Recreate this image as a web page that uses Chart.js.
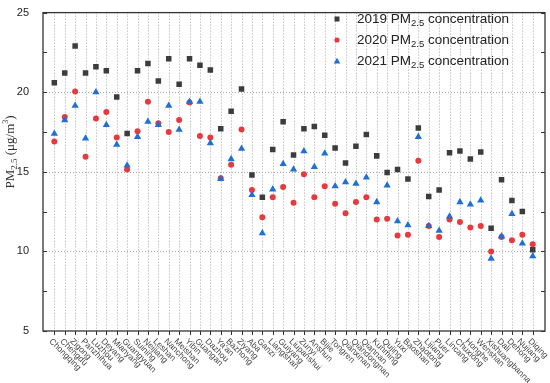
<!DOCTYPE html>
<html>
<head>
<meta charset="utf-8">
<script src="https://cdn.jsdelivr.net/npm/chart.js@4"></script>
<style>
  body { margin: 0; background: #fff; }
  #wrap { width: 550px; height: 383px; }
</style>
</head>
<body>
<div id="wrap"><canvas id="pmChart"></canvas></div>
<script>
// City names along the x axis
const cities = ['Chongqing', 'Chengdu', 'Zigong', 'Panzhihua', 'Luzhou', 'Deyang', 'Mianyang', 'Guangyuan',
    'Suining', 'Neijiang', 'Leshan', 'Nanchong', 'Meishan', 'Yibin', 'Guangan', 'Dazhou', "Ya'an", 'Bazhong',
    'Ziyang', 'Aba', 'Ganzi', 'Liangshan', 'Guiyang', 'Liupanshui', 'Zunyi', 'Anshun', 'Bijie', 'Tongren',
    'Qianxinan', 'Qiandongnan', 'Qiannan', 'Kunming', 'Qujing', 'Yuxi', 'Baoshan', 'Zhaotong', 'Lijiang',
    'Puer', 'Lincang', 'Chuxiong', 'Honghe', 'Wenshan', 'Xishuangbanna', 'Dali', 'Dehong', 'Nujiang', 'Diqing'];

// PM2.5 values (ug/m3)
const pm2019 = [20.6, 21.2, 22.9, 21.2, 21.6, 21.35, 19.7, 17.4, 21.35, 21.8, 20.7, 22.1, 20.5, 22.1, 21.7,
    21.4, 17.7, 18.8, 20.2, 14.8, 13.4, 16.4, 18.15, 16.05, 17.7, 17.85, 17.3, 16.5, 15.55, 16.6, 17.35, 16.0,
    14.95, 15.15, 14.55, 17.75, 13.45, 13.85, 16.2, 16.3, 15.8, 16.25, 11.45, 14.5, 13.2, 12.5, 10.1];
const pm2020 = [16.9, 18.45, 20.05, 15.95, 18.35, 18.75, 17.15, 15.15, 17.55, 19.4, 18.05, 17.5, 18.25, 19.35,
    17.25, 17.15, 14.6, 15.45, 17.65, 13.85, 12.15, 13.4, 14.05, 13.05, 14.85, 13.4, 14.1, 13.0, 12.4, 13.1,
    13.4, 12.0, 12.05, 11.0, 11.05, 15.7, 11.6, 10.9, 12.0, 11.85, 11.5, 11.6, 10.0, 10.9, 10.7, 11.05, 10.45];
const pm2021 = [17.4, 18.25, 19.15, 17.1, 20.0, 17.95, 16.7, 15.4, 17.2, 18.15, 17.95, 19.15, 17.65, 19.4,
    19.4, 16.8, 14.55, 15.8, 16.45, 13.55, 11.15, 13.9, 15.5, 15.15, 16.3, 15.3, 16.15, 14.1, 14.35, 14.25,
    14.65, 13.1, 14.15, 11.9, 11.65, 17.2, 11.6, 11.3, 12.2, 13.1, 12.95, 13.2, 9.55, 10.95, 12.35, 10.5, 9.7];

const yearLabels = ['2019', '2020', '2021'];
const yTicks = [5, 10, 15, 20, 25];

const toPoints = arr => arr.map((v, i) => ({ x: i, y: v }));

// Dotted grid under the points
const gridPlugin = {
    id: 'dotGrid',
    beforeDatasetsDraw(chart) {
        const ctx = chart.ctx;
        const area = chart.chartArea;
        const xs = chart.scales.x;
        const ys = chart.scales.y;
        ctx.save();
        ctx.strokeStyle = '#a8a8a8';
        ctx.lineWidth = 1;
        ctx.setLineDash([1, 2]);
        cities.forEach((c, i) => {
            const px = Math.round(xs.getPixelForValue(i)) + 0.5;
            ctx.beginPath();
            ctx.moveTo(px, area.top); ctx.lineTo(px, area.bottom);
            ctx.stroke();
        });
        [10, 15, 20].forEach(v => {
            const py = Math.round(ys.getPixelForValue(v)) + 0.5;
            ctx.beginPath();
            ctx.moveTo(area.left, py); ctx.lineTo(area.right, py);
            ctx.stroke();
        });
        ctx.restore();
    }
};

// Frame, inward ticks, rotated city labels, axis title and legend
const decorPlugin = {
    id: 'decor',
    afterDraw(chart) {
        const ctx = chart.ctx;
        const area = chart.chartArea;
        const xs = chart.scales.x;
        const ys = chart.scales.y;
        ctx.save();

        // box
        ctx.strokeStyle = '#333';
        ctx.lineWidth = 1.3;
        ctx.strokeRect(area.left, area.top, area.right - area.left, area.bottom - area.top);

        // y ticks, pointing in, both sides
        ctx.lineWidth = 1;
        for (let v = 5; v <= 25; v += 2.5) {
            const py = Math.round(ys.getPixelForValue(v)) + 0.5;
            ctx.beginPath();
            ctx.moveTo(area.left, py); ctx.lineTo(area.left + 4, py);
            ctx.moveTo(area.right, py); ctx.lineTo(area.right - 4, py);
            ctx.stroke();
        }

        // x ticks, pointing out, and labels
        ctx.fillStyle = '#444';
        ctx.font = '8.5px "Liberation Sans", Arial, sans-serif';
        ctx.textAlign = 'left';
        ctx.textBaseline = 'top';
        cities.forEach((c, i) => {
            const px = Math.round(xs.getPixelForValue(i)) + 0.5;
            ctx.beginPath();
            ctx.moveTo(px, area.bottom); ctx.lineTo(px, area.bottom + 4);
            ctx.stroke();
            ctx.save();
            ctx.translate(px - 1, area.bottom + 6);
            ctx.rotate(Math.PI / 4);
            ctx.fillText(c, 0, 0);
            ctx.restore();
        });

        // y axis title
        ctx.save();
        ctx.translate(14, 152);
        ctx.rotate(-Math.PI / 2);
        ctx.fillStyle = '#333';
        ctx.textBaseline = 'alphabetic';
        const parts = [
            ['PM', '13px "Liberation Serif", serif', 0],
            ['2.5', '9px "Liberation Serif", serif', 3],
            [' (\u03bcg/m', '13px "Liberation Serif", serif', 0],
            ['3', '8px "Liberation Serif", serif', -6],
            [')', '13px "Liberation Serif", serif', 0]
        ];
        let w = 0;
        parts.forEach(p => { ctx.font = p[1]; w += ctx.measureText(p[0]).width; });
        let tx = -w / 2;
        parts.forEach(p => {
            ctx.font = p[1];
            ctx.fillText(p[0], tx, p[2]);
            tx += ctx.measureText(p[0]).width;
        });
        ctx.restore();

        // legend
        const rowsY = [19, 40, 61];
        chart.data.datasets.forEach((ds, k) => {
            const y = rowsY[k];
            const mx = 337;
            ctx.fillStyle = ds.backgroundColor;
            ctx.beginPath();
            if (ds.pointStyle === 'rect') {
                ctx.fillRect(mx - 2.5, y - 2.5, 5, 5);
            } else if (ds.pointStyle === 'circle') {
                ctx.arc(mx, y, 2.6, 0, Math.PI * 2);
                ctx.fill();
            } else {
                ctx.moveTo(mx, y - 3.2); ctx.lineTo(mx + 3.3, y + 2.5); ctx.lineTo(mx - 3.3, y + 2.5);
                ctx.closePath();
                ctx.fill();
            }
            ctx.fillStyle = '#222';
            ctx.textBaseline = 'middle';
            let lx = 357;
            const bits = [
                [yearLabels[k] + ' PM', '13.5px "Liberation Sans", Arial, sans-serif', 0],
                ['2.5', '9.5px "Liberation Sans", Arial, sans-serif', 4],
                [' concentration', '13.5px "Liberation Sans", Arial, sans-serif', 0]
            ];
            bits.forEach(b => {
                ctx.font = b[1];
                ctx.fillText(b[0], lx, y + b[2]);
                lx += ctx.measureText(b[0]).width;
            });
        });

        ctx.restore();
    }
};

function initPmChart() {
    const ctx = document.getElementById('pmChart').getContext('2d');
    new Chart(ctx, {
        type: 'scatter',
        data: {
            datasets: [{
                label: '2019',
                data: toPoints(pm2019),
                pointStyle: 'rect',
                pointRadius: 3.9,
                backgroundColor: '#3c3c3c',
                borderWidth: 0,
                order: 3
            }, {
                label: '2020',
                data: toPoints(pm2020),
                pointStyle: 'circle',
                pointRadius: 3,
                backgroundColor: '#e83a3e',
                borderWidth: 0,
                order: 2
            }, {
                label: '2021',
                data: toPoints(pm2021),
                pointStyle: 'triangle',
                pointRadius: 4.2,
                backgroundColor: '#1f6fd4',
                borderWidth: 0,
                order: 1
            }]
        },
        options: {
            responsive: true,
            maintainAspectRatio: false,
            animation: false,
            layout: { padding: { top: 5, right: 5, left: 0, bottom: 0 } },
            plugins: {
                legend: { display: false },
                tooltip: { enabled: false }
            },
            scales: {
                x: {
                    type: 'linear',
                    min: -1.09,
                    max: 47.18,
                    afterBuildTicks: scale => {
                        scale.ticks = cities.map((c, i) => ({ value: i }));
                    },
                    afterFit: scale => { scale.height = 52; },
                    ticks: { display: false },
                    grid: { display: false },
                    border: { display: false }
                },
                y: {
                    min: 5,
                    max: 25,
                    afterBuildTicks: scale => {
                        scale.ticks = yTicks.map(v => ({ value: v }));
                    },
                    afterFit: scale => { scale.width = 43; },
                    ticks: {
                        padding: 6,
                        color: '#222',
                        font: { family: '"Liberation Sans", Arial, sans-serif', size: 11 }
                    },
                    grid: { display: false },
                    border: { display: false }
                }
            }
        },
        plugins: [gridPlugin, decorPlugin]
    });
}

initPmChart();
</script>
</body>
</html>
